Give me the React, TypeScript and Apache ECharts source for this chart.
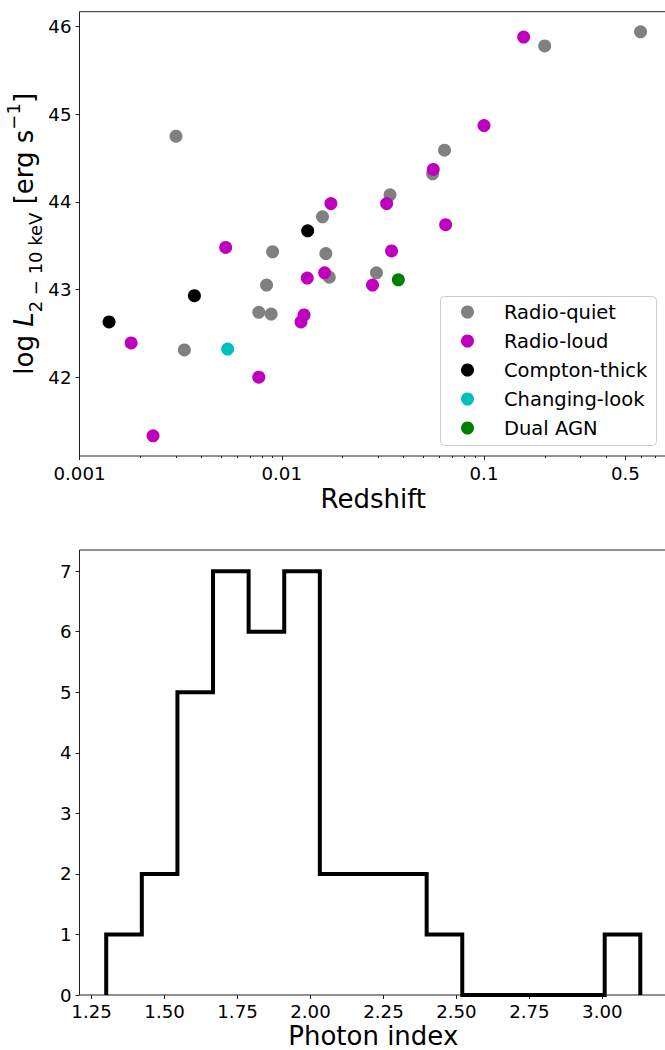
import React, { useEffect, useRef } from "react";
import * as echarts from "echarts";

const FONT = "'DejaVu Sans', sans-serif";
const INK = "#000000";
const SPINE = "#222222";

// Top panel: redshift and log 2-10 keV luminosity for each source class
const radioQuietZ = [0.003, 0.0159, 0.1995, 0.594, 0.0638, 0.0557, 0.0343, 0.0294, 0.00901, 0.01652, 0.01718, 0.00841, 0.0077, 0.00886, 0.0033];
const radioQuietL = [44.75, 43.83, 45.78, 45.94, 44.59, 44.32, 44.08, 43.19, 43.43, 43.41, 43.14, 43.05, 42.74, 42.72, 42.31];
const radioLoudZ = [0.0175, 0.157, 0.1, 0.0561, 0.033, 0.0646, 0.0349, 0.0281, 0.00528, 0.01629, 0.01337, 0.01289, 0.01245, 0.0018, 0.0077, 0.00231];
const radioLoudL = [43.98, 45.88, 44.87, 44.37, 43.98, 43.74, 43.44, 43.05, 43.48, 43.19, 43.13, 42.71, 42.63, 42.39, 42.0, 41.33];
const comptonThickZ = [0.01343, 0.0037, 0.0014];
const comptonThickL = [43.67, 42.93, 42.63];
const changingLookZ = [0.0054];
const changingLookL = [42.32];
const dualAgnZ = [0.0377];
const dualAgnL = [43.11];

const redshiftRange = [0.001, 0.803];
const redshiftTicks = [0.001, 0.01, 0.1, 0.5];
const redshiftTickLabels = ["0.001", "0.01", "0.1", "0.5"];
const redshiftMinorTicks = [
  0.002, 0.003, 0.004, 0.005, 0.006, 0.007, 0.008, 0.009,
  0.02, 0.03, 0.04, 0.05, 0.06, 0.07, 0.08, 0.09,
  0.2, 0.3, 0.4, 0.6, 0.7, 0.8,
];
const lumRange = [41.1, 46.17];
const lumTicks = [42, 43, 44, 45, 46];

// Bottom panel: photon index histogram
const binEdges = [1.3, 1.422, 1.544, 1.666, 1.788, 1.91, 2.032, 2.154, 2.276, 2.398, 2.52, 2.642, 2.764, 2.886, 3.008, 3.13];
const binCounts = [1, 2, 5, 7, 6, 7, 2, 2, 2, 1, 0, 0, 0, 0, 1];
const indexRange = [1.2085, 3.2215];
const indexTicks = [1.25, 1.5, 1.75, 2.0, 2.25, 2.5, 2.75, 3.0];
const countRange = [0, 7.35];
const countTicks = [0, 1, 2, 3, 4, 5, 6, 7];

const classes = [
  { name: "Radio-quiet", color: "#808080", z: radioQuietZ, l: radioQuietL },
  { name: "Radio-loud", color: "#bf00bf", z: radioLoudZ, l: radioLoudL },
  { name: "Compton-thick", color: "#000000", z: comptonThickZ, l: comptonThickL },
  { name: "Changing-look", color: "#00bfbf", z: changingLookZ, l: changingLookL },
  { name: "Dual AGN", color: "#008000", z: dualAgnZ, l: dualAgnL },
];

const lg = (v: number) => Math.log10(v);

function redshiftLabel(v: number): string {
  let best = 0;
  let bestD = Infinity;
  redshiftTicks.forEach((t, i) => {
    const d = Math.abs(lg(t) - v);
    if (d < bestD) {
      bestD = d;
      best = i;
    }
  });
  return redshiftTickLabels[best];
}

// Step outline of the histogram, as drawn by an unfilled step histogram
function histOutline(edges: number[], counts: number[]): number[][] {
  const pts: number[][] = [[edges[0], 0]];
  counts.forEach((c, i) => {
    pts.push([edges[i], c]);
    pts.push([edges[i + 1], c]);
  });
  pts.push([edges[edges.length - 1], 0]);
  return pts;
}

const tickLabel = { fontSize: 18.2, color: INK, fontFamily: FONT };
const axisName = { fontSize: 26, color: INK, fontFamily: FONT };

function buildOption(): any {
  return {
    animation: false,
    backgroundColor: "#ffffff",
    grid: [
      { left: 79.5, top: 11.7, right: 13, height: 444.3, show: true, borderColor: SPINE, borderWidth: 1, containLabel: false, outerBoundsMode: "none" },
      { left: 79.5, top: 550, right: 13, height: 445, show: true, borderColor: SPINE, borderWidth: 1, containLabel: false, outerBoundsMode: "none" },
    ],
    // legend frame
    graphic: [
      {
        type: "rect",
        x: 440.5,
        y: 296.5,
        z: 3,
        shape: { width: 216, height: 149, r: 4 },
        style: { fill: "rgba(255,255,255,0.8)", stroke: "#cccccc", lineWidth: 1 },
      },
    ],
    legend: {
      data: classes.map((c) => c.name),
      orient: "vertical",
      // the box is placed by its content bounds, which start at the marker
      left: 461,
      top: 302,
      icon: "circle",
      itemWidth: 63,
      itemHeight: 13,
      itemGap: 9,
      padding: 0,
      z: 4,
      selectedMode: false,
      textStyle: { fontSize: 19.5, color: INK, fontFamily: FONT, lineHeight: 20 },
    },
    xAxis: [
      {
        gridIndex: 0,
        type: "value",
        position: "bottom",
        min: lg(redshiftRange[0]),
        max: lg(redshiftRange[1]),
        axisLine: { show: false },
        splitLine: { show: false },
        axisTick: { show: true, length: 4, customValues: redshiftTicks.map(lg), lineStyle: { color: SPINE } },
        axisLabel: { ...tickLabel, margin: 8, customValues: redshiftTicks.map(lg), formatter: (v: number) => redshiftLabel(v) },
        name: "Redshift",
        nameLocation: "middle",
        nameGap: 32,
        nameMoveOverlap: false,
        nameTextStyle: { ...axisName, lineHeight: 22 },
      },
      {
        gridIndex: 0,
        type: "value",
        position: "bottom",
        min: lg(redshiftRange[0]),
        max: lg(redshiftRange[1]),
        axisLine: { show: false },
        splitLine: { show: false },
        axisLabel: { show: false },
        axisTick: { show: true, length: 2, customValues: redshiftMinorTicks.map(lg), lineStyle: { color: SPINE } },
      },
      {
        gridIndex: 1,
        type: "value",
        position: "bottom",
        min: indexRange[0],
        max: indexRange[1],
        axisLine: { show: false },
        splitLine: { show: false },
        axisTick: { show: true, length: 4, customValues: indexTicks, lineStyle: { color: SPINE } },
        axisLabel: { ...tickLabel, margin: 7, customValues: indexTicks, formatter: (v: number) => v.toFixed(2) },
        name: "Photon index",
        nameLocation: "middle",
        nameGap: 30,
        nameMoveOverlap: false,
        nameTextStyle: { ...axisName, lineHeight: 22 },
      },
    ],
    yAxis: [
      {
        gridIndex: 0,
        type: "value",
        min: lumRange[0],
        max: lumRange[1],
        axisLine: { show: false },
        splitLine: { show: false },
        axisTick: { show: true, length: 4, customValues: lumTicks, lineStyle: { color: SPINE } },
        axisLabel: { ...tickLabel, margin: 8, customValues: lumTicks, formatter: (v: number) => String(Math.round(v)) },
        name: "{n|log }{i|L}{s|2 − 10 keV}{n| [erg s}{p|−1}{n|]}",
        nameLocation: "middle",
        nameRotate: 90,
        nameGap: 35.5,
        nameMoveOverlap: false,
        nameTextStyle: {
          ...axisName,
          rich: {
            n: { fontSize: 26, fontFamily: FONT, color: INK, lineHeight: 40 },
            i: { fontSize: 26, fontFamily: FONT, color: INK, fontStyle: "italic", lineHeight: 40 },
            s: { fontSize: 18, fontFamily: FONT, color: INK, lineHeight: 24.4, verticalAlign: "bottom" },
            p: { fontSize: 18, fontFamily: FONT, color: INK, lineHeight: 25.6, verticalAlign: "top" },
          },
        },
      },
      {
        gridIndex: 1,
        type: "value",
        min: countRange[0],
        max: countRange[1],
        axisLine: { show: false },
        splitLine: { show: false },
        axisTick: { show: true, length: 4, customValues: countTicks, lineStyle: { color: SPINE } },
        axisLabel: { ...tickLabel, margin: 8, customValues: countTicks, formatter: (v: number) => String(Math.round(v)) },
      },
    ],
    series: [
      ...classes.map((c) => ({
        name: c.name,
        type: "scatter",
        xAxisIndex: 0,
        yAxisIndex: 0,
        symbol: "circle",
        symbolSize: 13,
        itemStyle: { color: c.color, opacity: 1 },
        data: c.z.map((z, i) => [lg(z), c.l[i]]),
      })),
      {
        name: "Photon index",
        type: "line",
        xAxisIndex: 2,
        yAxisIndex: 1,
        showSymbol: false,
        symbol: "none",
        clip: true,
        lineStyle: { color: INK, width: 4, join: "miter", cap: "butt" },
        data: histOutline(binEdges, binCounts),
      },
    ],
  };
}

export default function App() {
  const ref = useRef<HTMLDivElement>(null);
  useEffect(() => {
    if (!ref.current) return;
    const chart = echarts.init(ref.current, null, { renderer: "svg" });
    chart.setOption(buildOption());
    return () => chart.dispose();
  }, []);
  return (
    <div style={{ position: "fixed", left: 0, top: 0, width: 665, height: 1050, overflow: "hidden", background: "#fff" }}>
      <div ref={ref} style={{ width: 680, height: 1050 }} />
    </div>
  );
}
